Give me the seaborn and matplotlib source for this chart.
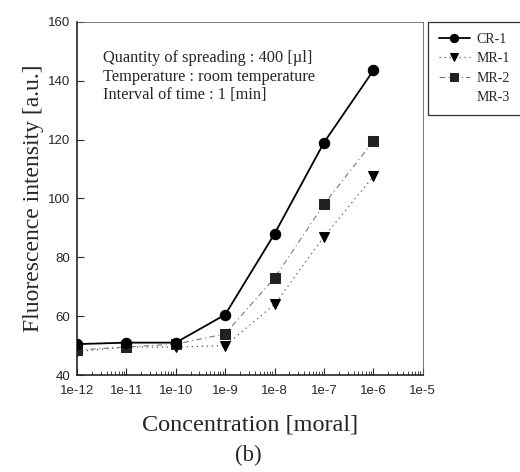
import numpy as np
import pandas as pd
import matplotlib
matplotlib.use('Agg')
import matplotlib.pyplot as plt
import seaborn as sns

# 농도 (moral) 와 형광세기 값 - 그림에서 읽어옴
conc = [1e-12, 1e-11, 1e-10, 1e-9, 1e-8, 1e-7, 1e-6]
cr1 = [50.5, 51.0, 51.0, 60.5, 88.0, 119.0, 143.5]
mr1 = [48.0, 49.5, 49.5, 50.0, 64.0, 87.0, 107.5]
mr2 = [48.5, 49.5, 50.5, 54.0, 73.0, 98.0, 119.5]
mr3 = [47.0, 49.0, 51.0, 57.0, 78.0, 108.0, 130.0]  # 흰색이라 거의 안보임
series_names = ['CR-1', 'MR-1', 'MR-2', 'MR-3']
xtick_labels = ['1e-12', '1e-11', '1e-10', '1e-9', '1e-8', '1e-7', '1e-6', '1e-5']

df = pd.DataFrame({'conc': conc * 4,
                   'val': cr1 + mr1 + mr2 + mr3,
                   'name': np.repeat(series_names, len(conc))})

sns.set_style('ticks')
serif = ['Liberation Serif', 'DejaVu Serif']
sans = ['Liberation Sans', 'DejaVu Sans']
plt.rcParams['font.family'] = sans

fig = plt.figure(figsize=(5.2, 4.72), dpi=100)
ax = fig.add_axes([0.148, 0.2055, 0.665, 0.748])

styles = {
    'CR-1': dict(color='black', ls='-', lw=1.3, marker='o', ms=7.5, mfc='black', mec='black'),
    'MR-1': dict(color='#555555', ls=(0, (1, 3)), lw=0.9, marker='v', ms=7.5, mfc='black', mec='black'),
    'MR-2': dict(color='#777777', ls=(0, (5, 3, 1, 3)), lw=0.8, marker='s', ms=6.5, mfc='#222222', mec='#222222'),
    'MR-3': dict(color='white', ls='-', lw=1.0, marker='D', ms=6, mfc='white', mec='white'),
}
# MR-3 는 흰색 - 다른 선 위에 살짝 겹치게
for name in ['MR-1', 'MR-2', 'CR-1', 'MR-3']:
    st = styles[name]
    sub = df[df['name'] == name]
    sns.lineplot(data=sub, x='conc', y='val', ax=ax, color=st['color'],
                 linestyle=st['ls'], linewidth=st['lw'], marker=st['marker'],
                 markersize=st['ms'], markerfacecolor=st['mfc'],
                 markeredgecolor=st['mec'], label=name, zorder=3 if name != 'MR-3' else 2.5)

ax.set_xscale('log')
ax.set_xlim(1e-12, 1e-5)
ax.set_ylim(40, 160)
ax.set_xticks([10.0 ** e for e in range(-12, -4)])
ax.set_xticklabels(xtick_labels)
ax.set_yticks(range(40, 161, 20))
ax.tick_params(axis='both', which='major', direction='in', length=5, labelsize=9.5, width=0.8)
ax.tick_params(axis='x', which='major', pad=7)
ax.tick_params(axis='y', which='major', pad=5)
ax.tick_params(axis='x', which='minor', direction='in', length=3, width=0.6)
ax.tick_params(axis='y', which='minor', left=False)

for s in ['left', 'bottom']:
    ax.spines[s].set_linewidth(1.2)
for s in ['top', 'right']:
    ax.spines[s].set_linewidth(0.6)
    ax.spines[s].set_color('#666666')

ax.set_xlabel('Concentration [moral]', fontsize=17.5, family=serif, labelpad=13)
ax.set_ylabel('Fluorescence intensity [a.u.]', fontsize=17, family=serif, labelpad=3)

ax.text(0.075, 0.92, 'Quantity of spreading : 400 [\u00b5l]\nTemperature : room temperature\nInterval of time : 1 [min]',
        transform=ax.transAxes, va='top', ha='left', fontsize=11.8, family=serif, linespacing=1.2)

# 범례는 축 밖 오른쪽
handles, labels = ax.get_legend_handles_labels()
order = [labels.index(n) for n in series_names]
leg = ax.legend([handles[i] for i in order], [labels[i] for i in order],
                loc='upper left', bbox_to_anchor=(1.015, 1.0), frameon=True, fancybox=False,
                prop={'family': serif, 'size': 10}, handlelength=2.2, borderpad=0.8,
                labelspacing=0.45, handletextpad=0.5, borderaxespad=0, markerscale=0.8)
leg.get_frame().set_edgecolor('black')
leg.get_frame().set_linewidth(0.9)

fig.text(0.477, 0.035, '(b)', ha='center', va='center', fontsize=16.5, family=serif)

fig.savefig('out.png', dpi=100)
